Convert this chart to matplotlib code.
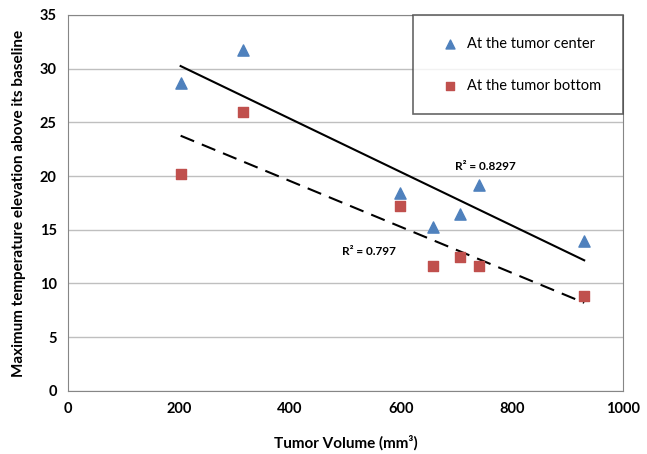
import numpy as np
import matplotlib
matplotlib.use('Agg')
import matplotlib.pyplot as plt

plt.rcParams['font.family'] = ['Lato', 'DejaVu Sans']

# tumor volume (mm^3)
volume = [203, 315, 598, 658, 707, 740, 930]
# max temperature elevation
center = [28.7, 31.7, 18.4, 15.3, 16.5, 19.2, 14.0]
bottom = [20.2, 26.0, 17.2, 11.6, 12.5, 11.6, 8.8]
r2_labels = ['R\u00b2 = 0.8297', 'R\u00b2 = 0.797']

fig = plt.figure(figsize=(6.47, 4.54), dpi=100)
ax = fig.add_axes([0.105, 0.139, 0.858, 0.828])

ax.scatter(volume, center, marker='^', s=65, c='#4F81BD', label='At the tumor center', zorder=3)
ax.scatter(volume, bottom, marker='s', s=55, c='#C0504D', label='At the tumor bottom', zorder=3)

# linear trend lines
xs = np.array([min(volume), max(volume)])
for ys, ls in [(center, '-'), (bottom, (0, (7, 4)))]:
    k, b = np.polyfit(volume, ys, 1)
    ax.plot(xs, k * xs + b, color='black', lw=1.5, ls=ls, zorder=2)

ax.text(752, 20.9, r2_labels[0], fontsize=8.5, fontweight='bold', ha='center', va='center')
ax.text(543, 13.0, r2_labels[1], fontsize=8.5, fontweight='bold', ha='center', va='center')

ax.set_xlim(0, 1000)
ax.set_ylim(0, 35)
ax.set_xticks(range(0, 1001, 200))
ax.set_yticks(range(0, 36, 5))
ax.yaxis.grid(True, color='#bfbfbf', lw=1)
ax.set_axisbelow(True)
ax.tick_params(length=0, labelsize=10.5, pad=8)
for lab in ax.get_xticklabels() + ax.get_yticklabels():
    lab.set_fontweight('bold')
for sp in ax.spines.values():
    sp.set_color('#868686')

ax.set_xlabel('Tumor Volume (mm\u00b3)', fontsize=11, fontweight='bold', labelpad=14)
ax.set_ylabel('Maximum temperature elevation above its baseline', fontsize=11,
              fontweight='bold', labelpad=10)

leg = ax.legend(loc='upper right', bbox_to_anchor=(1.0, 1.0), fontsize=10.5, frameon=True,
                fancybox=False, borderaxespad=0, labelspacing=1.9, borderpad=1.5,
                handletextpad=0.2, markerscale=0.8)
leg.get_frame().set_edgecolor('#404040')
leg.get_frame().set_linewidth(1.2)

fig.savefig('out.png', dpi=100)
